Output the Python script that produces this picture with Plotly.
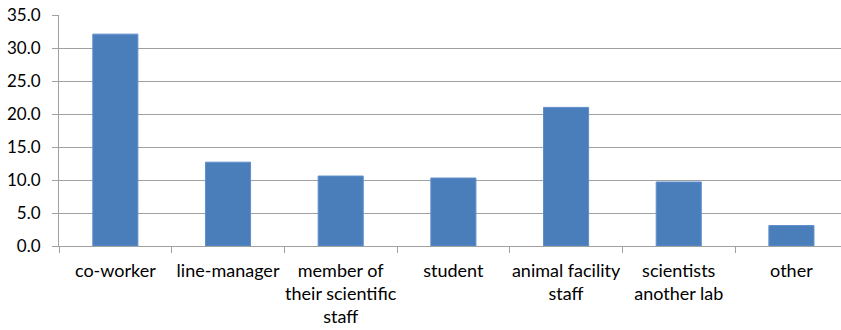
import plotly.graph_objects as go

categories = ["co-worker", "line-manager", "member of<br>their scientific<br>staff", "student",
              "animal facility<br>staff", "scientists<br>another lab", "other"]
values = [32.1, 12.7, 10.6, 10.3, 21.0, 9.7, 3.1]
y_ticks = [0, 5, 10, 15, 20, 25, 30, 35]
y_tick_labels = ["%.1f" % v for v in y_ticks]

fig = go.Figure(go.Bar(
    x=categories, y=values, width=0.4,
    marker=dict(color="#4a7ebb", line=dict(color="#5f8fcc", width=1)),
))

font = dict(family="Lato, Open Sans, sans-serif", size=18, color="#000000")
yfont = dict(family="Lato, Open Sans, sans-serif", size=17, color="#000000")
fig.update_layout(
    width=841, height=330,
    margin=dict(l=59, r=0, t=15, b=84),
    plot_bgcolor="white", paper_bgcolor="white",
    showlegend=False, font=font, bargap=0.6,
)
fig.update_yaxes(
    range=[0, 35], tickvals=y_ticks, ticktext=y_tick_labels,
    showgrid=True, gridcolor="#a0a0a0", gridwidth=1,
    showline=True, linecolor="#a0a0a0", linewidth=1,
    ticks="outside", ticklen=6, tickcolor="#a0a0a0",
    zeroline=False, tickfont=yfont, ticklabelstandoff=8,
)
fig.update_xaxes(
    type="category", range=[-0.5, 6.44],
    showline=True, linecolor="#a0a0a0", linewidth=1,
    ticks="outside", ticklen=6, tickcolor="#a0a0a0", tickson="boundaries",
    showgrid=False, tickfont=font, tickangle=0, ticklabelstandoff=8,
)
fig.write_html("out.html")
